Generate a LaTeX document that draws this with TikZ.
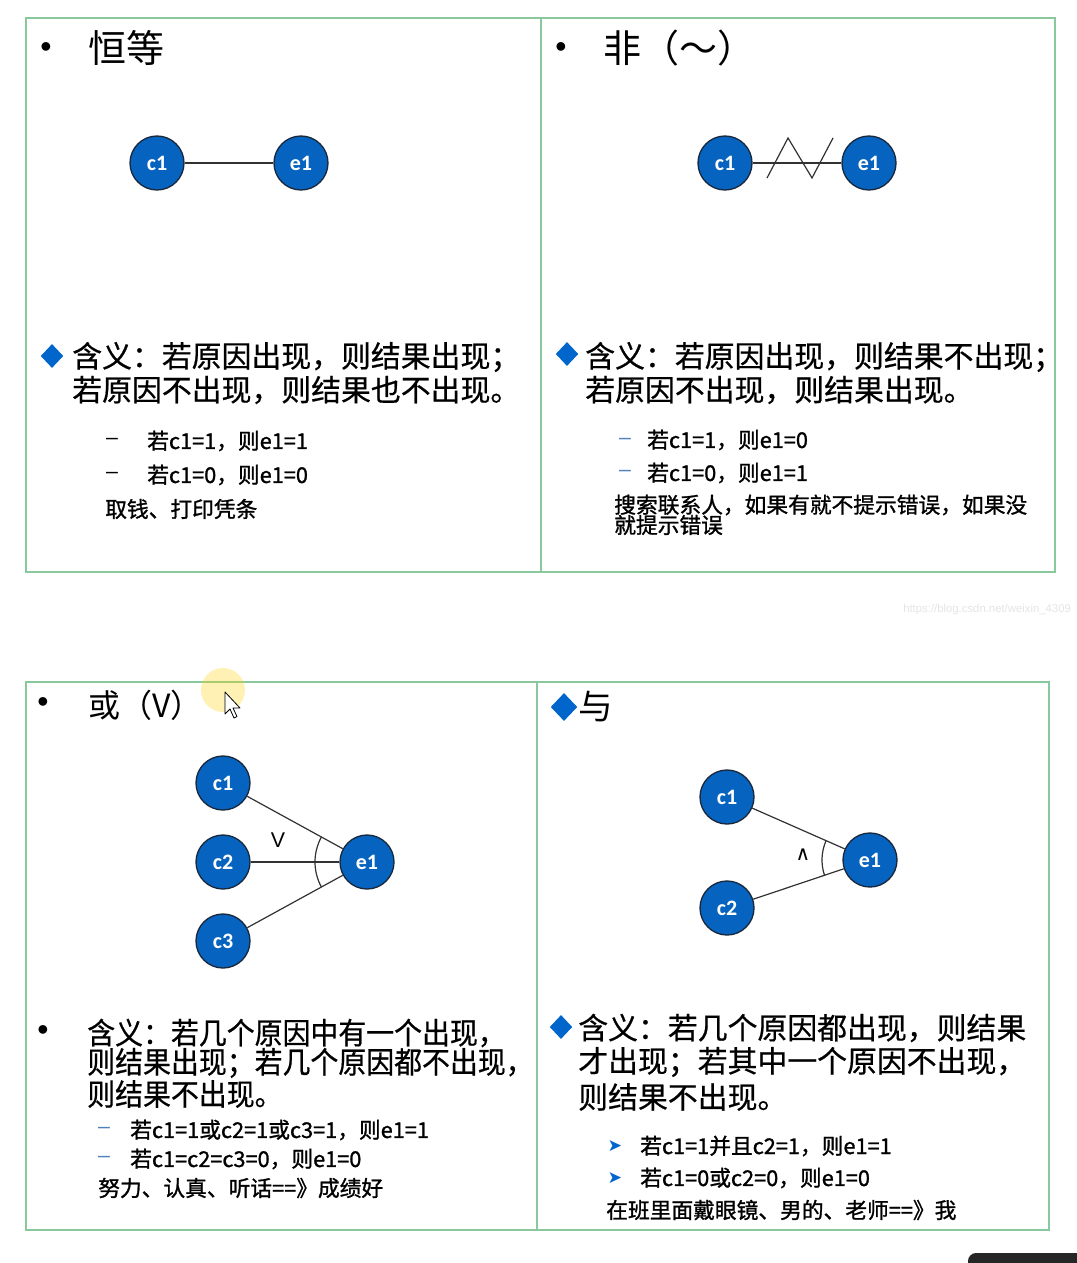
\documentclass[tikz,border=0pt]{standalone}
\usepackage{fontspec}
\usetikzlibrary{shapes.geometric,angles}
\newfontfamily\cjk[FakeBold=0.6]{Noto Sans CJK SC}
\newfontfamily\cjkt{Noto Sans CJK SC}
\newfontfamily\cjkc[FakeStretch=0.93,FakeBold=0.6]{Noto Sans CJK SC}
\newfontfamily\cjks[FakeBold=1.2]{Noto Sans CJK SC}
\newfontfamily\nodefnt{Carlito}
\newfontfamily\dvs{DejaVu Sans}
\newfontfamily\lsans{Liberation Sans}
\definecolor{framegreen}{RGB}{138,200,158}
\definecolor{nodeblue}{RGB}{6,100,192}
\definecolor{nodeborder}{RGB}{25,40,60}
\definecolor{bulletblue}{RGB}{0,102,204}
\definecolor{dashblue}{RGB}{79,129,189}
\definecolor{linegray}{RGB}{50,50,50}
\tikzset{
  frame/.style={draw=framegreen, line width=1.5pt},
  cnode/.style={circle, fill=nodeblue, draw=nodeborder, line width=1pt, minimum size=40.5pt, inner sep=0pt, text=white, font=\nodefnt\bfseries\fontsize{16.5}{18}\selectfont},
  link/.style={draw=linegray, line width=0.9pt},
  ttl/.style={anchor=west, inner sep=0pt, font=\cjkt\fontsize{28.5}{30}\selectfont},
  ttlb/.style={anchor=west, inner sep=0pt, font=\cjkt\fontsize{24}{26}\selectfont},
  dot/.style={inner sep=0pt, font=\lsans\fontsize{24}{26}\selectfont},
  big/.style={anchor=west, inner sep=0pt, font=\cjk\fontsize{22.4}{24}\selectfont},
  bigc/.style={anchor=west, inner sep=0pt, font=\cjkc\fontsize{22.5}{24}\selectfont},
  small/.style={anchor=west, inner sep=0pt, font=\cjks\fontsize{16.3}{18}\selectfont},
  smallc/.style={anchor=west, inner sep=0pt, font=\cjks\fontsize{16.3}{18}\selectfont},
  dmd/.style={diamond, fill=bulletblue, inner sep=0pt, minimum width=17pt, minimum height=18pt},
  dsh/.style={inner sep=0pt, font=\lsans\fontsize{16}{18}\selectfont},
  arc/.style={draw=linegray, line width=0.9pt, angle radius=39pt},
}
\begin{document}
\begin{tikzpicture}[x=0.75pt,y=-0.75pt]
\useasboundingbox[fill=white] (0,0) rectangle (1077,1263);

% ---------- frames ----------
\draw[frame] (26,18) rectangle (1055,572);
\draw[frame] (541,18) -- (541,572);
\draw[frame] (26,682) rectangle (1049,1230);
\draw[frame] (537,682) -- (537,1230);

% ---------- top-left: 恒等 ----------
\node[dot] (tlb) at (46,50) {•};
\node[ttl] (tlt) at (88,48) {恒等};
\node[cnode] (tc1) at (157,163) {c1};
\node[cnode] (te1) at (301,163) {e1};
\draw[link] (tc1) -- (te1);
\node[dmd] (tld) at (52,356) {};
\node[big] (tl1) at (72,357) {含义：若原因出现，则结果出现；};
\node[big] (tl2) at (72,390) {若原因不出现，则结果也不出现。};
\node[dsh] (tld1) at (112,441) {–};
\node[small] (tls1) at (147,441) {若c1=1，则e1=1};
\node[dsh] (tld2) at (112,475) {–};
\node[small] (tls2) at (147,475) {若c1=0，则e1=0};
\node[small] (tls3) at (105,509) {取钱、打印凭条};

% ---------- top-right: 非 ----------
\node[dot] (trb) at (561,50) {•};
\node[ttl] (trt) at (603,48) {非（～）};
\node[cnode] (rc1) at (725,163) {c1};
\node[cnode] (re1) at (869,163) {e1};
\draw[link] (rc1) -- (re1);
\coordinate (z1) at (767,178);
\coordinate (z2) at (788,138);
\coordinate (z3) at (812,178);
\coordinate (z4) at (833,138);
\draw[link] (z1) -- (z2) -- (z3) -- (z4);
\node[dmd] (trd) at (567,354) {};
\node[big] (tr1) at (585,357) {含义：若原因出现，则结果不出现；};
\node[big] (tr2) at (585,390) {若原因不出现，则结果出现。};
\node[dsh, text=dashblue] (trd1) at (625,441) {–};
\node[small] (trs1) at (647,440) {若c1=1，则e1=0};
\node[dsh, text=dashblue] (trd2) at (625,473) {–};
\node[small] (trs2) at (647,473) {若c1=0，则e1=1};
\node[small] (trs3) at (614,505) {搜索联系人，如果有就不提示错误，如果没};
\node[small] (trs4) at (614,525) {就提示错误};

% watermark
\node[anchor=west, inner sep=0pt, text=black!10, font=\lsans\fontsize{8.5}{10}\selectfont] (wm) at (903,610) {https://blog.csdn.net/weixin\_4309};

% ---------- bottom-left: 或 ----------
\node[dot] (blb) at (43,705) {•};
\node[ttlb] (blt) at (88,705) {或（V）};
\fill[yellow!70!orange, opacity=0.3] (223,690) circle (22);
\draw[black, fill=white, line width=0.6pt, line join=round]
  (225,692) -- (225,714) -- (230,709) -- (234,718) -- (237,716.5) -- (233,708) -- (240,708) -- cycle;
\node[cnode] (lc1) at (223,783) {c1};
\node[cnode] (lc2) at (223,862) {c2};
\node[cnode] (lc3) at (223,941) {c3};
\node[cnode] (le1) at (367,862) {e1};
\draw[link] (lc1) -- (le1);
\draw[link] (lc2) -- (le1);
\draw[link] (lc3) -- (le1);
\pic[arc] {angle=lc1--le1--lc3};
\node[inner sep=0pt, font=\lsans\fontsize{16}{17}\selectfont] (lv) at (278,840) {V};
\node[dot] (blb2) at (43,1033) {•};
\node[bigc] (bl1) at (87,1033) {含义：若几个原因中有一个出现，};
\node[bigc] (bl2) at (87,1063) {则结果出现；若几个原因都不出现，};
\node[bigc] (bl3) at (87,1094) {则结果不出现。};
\node[dsh, text=dashblue] (bld1) at (104,1130) {–};
\node[smallc] (bls1) at (130,1130) {若c1=1或c2=1或c3=1，则e1=1};
\node[dsh, text=dashblue] (bld2) at (104,1159) {–};
\node[smallc] (bls2) at (130,1159) {若c1=c2=c3=0，则e1=0};
\node[smallc] (bls3) at (98,1188) {努力、认真、听话==》成绩好};

% ---------- bottom-right: 与 ----------
\node[dmd, minimum width=20pt, minimum height=21pt] (brd0) at (564,707) {};
\node[ttlb, font=\cjkt\fontsize{26}{28}\selectfont] (brt) at (578,707) {与};
\node[cnode] (rc1b) at (727,797) {c1};
\node[cnode] (rc2b) at (727,908) {c2};
\node[cnode] (re1b) at (870,860) {e1};
\draw[link] (rc1b) -- (re1b);
\draw[link] (rc2b) -- (re1b);
\pic[arc, angle radius=36pt] {angle=rc1b--re1b--rc2b};
\node[inner sep=0pt, font=\dvs\fontsize{15}{16}\selectfont] (ra) at (803,855) {∧};
\node[dmd] (brd) at (561,1027) {};
\node[big] (br1) at (578,1028) {含义：若几个原因都出现，则结果};
\node[big] (br2) at (578,1062) {才出现；若其中一个原因不出现，};
\node[big] (br3) at (578,1097) {则结果不出现。};
\node[inner sep=0pt, text=bulletblue, font=\dvs\fontsize{13}{14}\selectfont] (bra1) at (615,1146) {➤};
\node[smallc] (brs1) at (640,1146) {若c1=1并且c2=1，则e1=1};
\node[inner sep=0pt, text=bulletblue, font=\dvs\fontsize{13}{14}\selectfont] (bra2) at (615,1178) {➤};
\node[smallc] (brs2) at (640,1178) {若c1=0或c2=0，则e1=0};
\node[smallc] (brs3) at (606,1210) {在班里面戴眼镜、男的、老师==》我};

% dark corner element
\fill[black!85, rounded corners=6pt] (968,1253) rectangle (1100,1290);
\end{tikzpicture}
\end{document}
